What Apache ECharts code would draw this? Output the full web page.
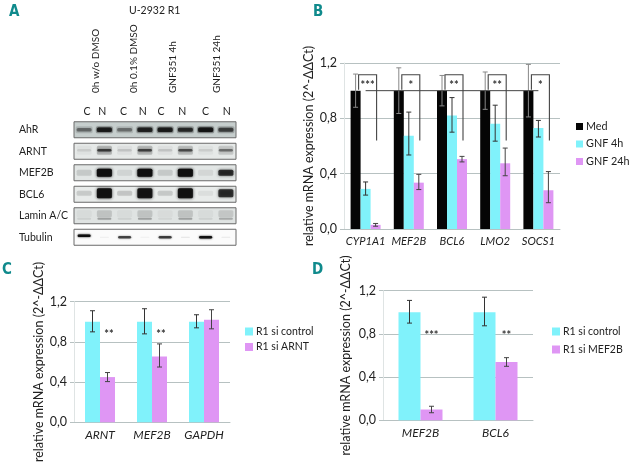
<!DOCTYPE html>
<html><head><meta charset="utf-8">
<style>html,body{margin:0;padding:0;background:#fff}#c{width:631px;height:469px}</style>
<script src="https://cdn.jsdelivr.net/npm/echarts@6/dist/echarts.min.js"></script></head>
<body><div id="c"></div>
<script>
// Panel A: band strength per lane
const lanes = ['C','N','C','N','C','N','C','N'];
const proteins = ['AhR','ARNT','MEF2B','BCL6','Lamin A/C','Tubulin'];
const ahr     = [0.45,0.90,0.42,0.85,0.90,0.80,0.98,0.66];
const arnt    = [0.10,0.72,0.14,0.68,0.14,0.62,0.10,0.46];
const mef2b   = [0.12,1.00,0.08,1.00,0.12,1.00,0.07,0.78];
const bcl6    = [0.14,1.00,0.16,0.98,0.15,1.00,0.06,0.80];
const laminAC = [0.10,0.34,0.10,0.34,0.08,0.34,0.10,0.30];
const tubulin = [1.00,0.06,0.68,0.05,0.70,0.10,0.98,0.08];
const laneTitles = ['0h w/o DMSO','0h 0.1% DMSO','GNF351 4h','GNF351 24h'];

// Panel B
const catB = ['CYP1A1','MEF2B','BCL6','LMO2','SOCS1'];
const med = [1,1,1,1,1];
const medHigh = [1.12,1.165,1.11,1.135,1.19];
const medLow = [0.88,0.835,0.89,0.865,0.81];
const gnf4 = [0.29,0.675,0.82,0.76,0.73];
const gnf4High = [0.34,0.845,0.95,0.895,0.785];
const gnf4Low = [0.245,0.535,0.70,0.635,0.665];
const gnf24 = [0.03,0.335,0.505,0.475,0.28];
const gnf24High = [0.04,0.395,0.525,0.585,0.415];
const gnf24Low = [0.02,0.285,0.485,0.385,0.19];
const starsB = ['***','*','**','**','*'];

// Panel C
const catC = ['ARNT','MEF2B','GAPDH'];
const ctlC = [1,1,1];
const ctlCHigh = [1.11,1.13,1.07];
const ctlCLow = [0.90,0.88,0.94];
const siArnt = [0.45,0.655,1.02];
const siArntHigh = [0.495,0.78,1.12];
const siArntLow = [0.405,0.55,0.93];
const starsC = ['**','**',''];

// Panel D
const catD = ['MEF2B','BCL6'];
const ctlD = [1,1];
const ctlDHigh = [1.11,1.14];
const ctlDLow = [0.90,0.875];
const siMef = [0.10,0.54];
const siMefHigh = [0.13,0.58];
const siMefLow = [0.07,0.50];
const starsD = ['***','**'];

const yTicks = [0,0.4,0.8,1.2];
const yName = 'relative mRNA expression (2^-\u0394\u0394Ct)';
const FONT = 'Lato, "Open Sans", sans-serif';
const CYAN = '#80f2fb', VIOLET = '#df96f4', BLACK = '#050505', TEXT = '#222', GRID = '#b7c1c1', TEAL = '#0f8a8c';

const grids = [
  {left:344, width:216, top:63, height:166},
  {left:74, width:156, top:301.7, height:120.6},
  {left:383, width:150, top:290.7, height:129.6},
  {left:74, width:162, top:119, height:129}
];
const xAxis = [], yAxis = [], series = [];

function addAxes(i, cats, nameGap, fs, catFs, namePad){
  xAxis.push({type:'category', gridIndex:i, data:cats, axisTick:{show:false},
    axisLine:{lineStyle:{color:GRID}},
    axisLabel:{fontFamily:FONT, fontStyle:'italic', fontSize:catFs, color:TEXT, margin:7, interval:0}});
  yAxis.push({type:'value', gridIndex:i, min:yTicks[0], max:yTicks[3], interval:yTicks[1],
    axisLine:{show:true, lineStyle:{color:'#dfe4e4'}}, axisTick:{show:true, length:4, lineStyle:{color:GRID}},
    splitLine:{lineStyle:{color:GRID}},
    axisLabel:{fontFamily:FONT, fontSize:fs, color:TEXT, margin:7, formatter:v=>v.toFixed(1).replace('.',',')},
    name:yName, nameLocation:'middle', nameGap:nameGap,
    nameTextStyle:{fontFamily:FONT, fontSize:fs, color:TEXT, padding:namePad||0}});
}
function bars(i, name, data, color, w){
  series.push({type:'bar', name, data, xAxisIndex:i, yAxisIndex:i, barWidth:w, barGap:0, itemStyle:{color}, animation:false});
}
function errs(i, low, high, offset, color){
  series.push({type:'custom', xAxisIndex:i, yAxisIndex:i, z:5, animation:false, silent:true,
    data: low.map((l,k)=>[k,l,high[k]]),
    renderItem:(p,api)=>{
      const a=api.coord([api.value(0),api.value(1)]), b=api.coord([api.value(0),api.value(2)]);
      const x=a[0]+offset, st={stroke:color, lineWidth:1, fill:null};
      return {type:'group',children:[
        {type:'line',shape:{x1:x,y1:a[1],x2:x,y2:b[1]},style:st},
        {type:'line',shape:{x1:x-2.5,y1:a[1],x2:x+2.5,y2:a[1]},style:st},
        {type:'line',shape:{x1:x-2.5,y1:b[1],x2:x+2.5,y2:b[1]},style:st}]};
    }});
}
function stars(i, labels, val, offset, fs){
  series.push({type:'custom', xAxisIndex:i, yAxisIndex:i, z:6, animation:false, silent:true,
    data: labels.map((s,k)=>[k,val]),
    renderItem:(p,api)=>{
      const c=api.coord([api.value(0),api.value(1)]);
      return {type:'text',style:{text:labels[p.dataIndex],x:c[0]+offset,y:c[1]+3.5,align:'center',verticalAlign:'middle',
        fontFamily:FONT,fontSize:fs,fontWeight:'bold',fill:'#333'}};
    }});
}

// B
addAxes(0, catB, 25, 12.5, 11.2);
bars(0,'Med',med,BLACK,10); bars(0,'GNF 4h',gnf4,CYAN,10); bars(0,'GNF 24h',gnf24,VIOLET,10);
errs(0,medLow,medHigh,-10,'#888'); errs(0,gnf4Low,gnf4High,0,'#333'); errs(0,gnf24Low,gnf24High,10,'#444');
const bracketTop = 1.115, bracketBase = 1.0, bracketEnd = 0.64;
series.push({type:'custom', xAxisIndex:0, yAxisIndex:0, z:6, animation:false, silent:true,
  data: catB.map((c,k)=>[k]),
  renderItem:(p,api)=>{
    const k=api.value(0), c=api.coord([k,bracketTop]), base=api.coord([k,bracketBase]), end=api.coord([k,bracketEnd]);
    const kids=[{type:'polyline',shape:{points:[[c[0]-7,base[1]-1],[c[0]-7,c[1]],[c[0]+11,c[1]],[c[0]+11,end[1]]]},
      style:{stroke:'#444',lineWidth:1.1,fill:null}}];
    if(k===0){ const last=api.coord([catB.length-1,bracketBase]);
      kids.push({type:'line',shape:{x1:c[0],y1:base[1],x2:last[0],y2:base[1]},style:{stroke:'#444',lineWidth:1}}); }
    return {type:'group',children:kids};
  }});
stars(0,starsB,1.06,2,11);

// C
addAxes(1, catC, 25, 12.5, 12);
bars(1,'R1 si control',ctlC,CYAN,15); bars(1,'R1 si ARNT',siArnt,VIOLET,15);
errs(1,ctlCLow,ctlCHigh,-7.5,'#333'); errs(1,siArntLow,siArntHigh,7.5,'#444');
stars(1,starsC,0.91,9,11);

// D
addAxes(2, catD, 18, 12.5, 12, [0,0,13,0]);
bars(2,'R1 si control',ctlD,CYAN,22); bars(2,'R1 si MEF2B',siMef,VIOLET,22);
errs(2,ctlDLow,ctlDHigh,-11,'#333'); errs(2,siMefLow,siMefHigh,11,'#444');
stars(2,starsD,0.82,11,11);

// A: blot
xAxis.push({type:'category',gridIndex:3,position:'top',data:lanes.map((l,i)=>i+''),
  axisLine:{show:false},axisTick:{show:false},axisLabel:{show:false}});
yAxis.push({type:'category',gridIndex:3,inverse:true,data:proteins,axisLine:{show:false},axisTick:{show:false},
  axisLabel:{fontFamily:FONT,fontSize:10.5,color:TEXT,align:'left',margin:55,interval:0}});
const rowsData=[ahr,arnt,mef2b,bcl6,laminAC,tubulin];
const rowShade=['#c6cecd','#e6e9e8','#e2e6e5','#e8ebea','#dfe3e2','#fbfbfb'];
const laneLabelNudge=[3,-2,-1,-2,-4,-3,0,1];
series.push({type:'custom',xAxisIndex:3,yAxisIndex:3,z:1,animation:false,silent:true,
  data:proteins.map((p,r)=>[0,r]),
  renderItem:(p,api)=>{
    const c=api.coord([0,api.value(1)]), s=api.size([1,1]);
    const left=c[0]-s[0]/2;
    return {type:'rect',shape:{x:left,y:c[1]-8,width:s[0]*lanes.length,height:16},
      style:{fill:rowShade[api.value(1)],stroke:'#6a6a6a',lineWidth:1}};
  }});
series.push({type:'custom',xAxisIndex:3,yAxisIndex:3,z:3,animation:false,silent:true,
  data:lanes.map((l,i)=>[i,0]),
  renderItem:(p,api)=>{
    const c=api.coord([api.value(0),0]);
    return {type:'text',style:{text:lanes[p.dataIndex],x:c[0]+laneLabelNudge[p.dataIndex],y:112,align:'center',verticalAlign:'middle',
      fontFamily:FONT,fontSize:10.5,fill:TEXT}};
  }});
const bandData=[]; rowsData.forEach((row,r)=>row.forEach((v,l)=>bandData.push([l,r,v])));
series.push({type:'custom',xAxisIndex:3,yAxisIndex:3,z:2,animation:false,silent:true,data:bandData,
  renderItem:(p,api)=>{
    const l=api.value(0), r=api.value(1), v=api.value(2);
    const c=api.coord([l,r]);
    const band=(dy,w,h,a,blur)=>({type:'rect',shape:{x:c[0]-w/2,y:c[1]+dy-h/2,width:w,height:h,r:1.5},
      style:{fill:'rgba(15,15,15,'+a+')',shadowBlur:blur,shadowColor:'rgba(15,15,15,'+a+')'}});
    let kids;
    if(r===4){ kids=[band(-2,15,7,v*0.4,3),band(3,14,2,v*0.8,2)]; }
    else if(r===5){ kids=[band(l===0?-1.5:0,v>0.5?13:9,v>0.5?2.5:1,v,2)]; }
    else if(r===0){ kids=[band(0,17,7,v*0.25,3),band(0,15,3+v*1.5,v*0.9,2)]; }
    else if(r===1){ kids=[band(-1,15,9,v*0.3,3),band(-1,14,2.5,v*0.9,2)]; }
    else if(r===2){ kids=[band(0,15,v>0.5?8*v:6,v,3)]; }
    else { kids=[band(-1,15,v>0.5?10*v:5,v*0.95,3)]; }
    return {type:'group',children:kids};
  }});

const laneTitleX=[96,134,173,217], laneTitleBottom=93;
const graphic=[
  {type:'text',left:129,top:5,style:{text:'U-2932 R1',fontFamily:FONT,fontSize:10.5,fill:TEXT}},
  ...laneTitles.map((t,i)=>({type:'text',x:laneTitleX[i],y:laneTitleBottom,rotation:Math.PI/2,
     style:{text:t,fontFamily:FONT,fontSize:10,fill:TEXT,align:'left',verticalAlign:'middle'}})),
  ...[['A',9,5],['B',313,5],['C',2,263],['D',312,263]].map(a=>({type:'text',left:a[1],top:a[2],
     style:{text:a[0],fontFamily:'"Liberation Sans Narrow","DejaVu Sans Condensed",sans-serif',fontSize:15,fontWeight:'bold',fill:TEAL}}))
];
const lg=(data,left,top,gap,fs,sq)=>({data,left,top,orient:'vertical',itemGap:gap,itemWidth:sq,itemHeight:sq,icon:'rect',selectedMode:false,padding:0,
  textStyle:{fontFamily:FONT,fontSize:fs,color:TEXT,padding:[0,0,0,-2]}});
const option={animation:false,backgroundColor:'#fff',grid:grids,xAxis,yAxis,series,graphic,
  legend:[lg(['Med','GNF 4h','GNF 24h'],576,121,6.5,10.8,7),
          lg(['R1 si control','R1 si ARNT'],245,326,4.5,10.5,8),
          lg(['R1 si control','R1 si MEF2B'],552,326,7,10.5,8)]};
const chart=echarts.init(document.getElementById('c'),null,{renderer:'canvas'});
chart.setOption(option);
</script></body></html>
